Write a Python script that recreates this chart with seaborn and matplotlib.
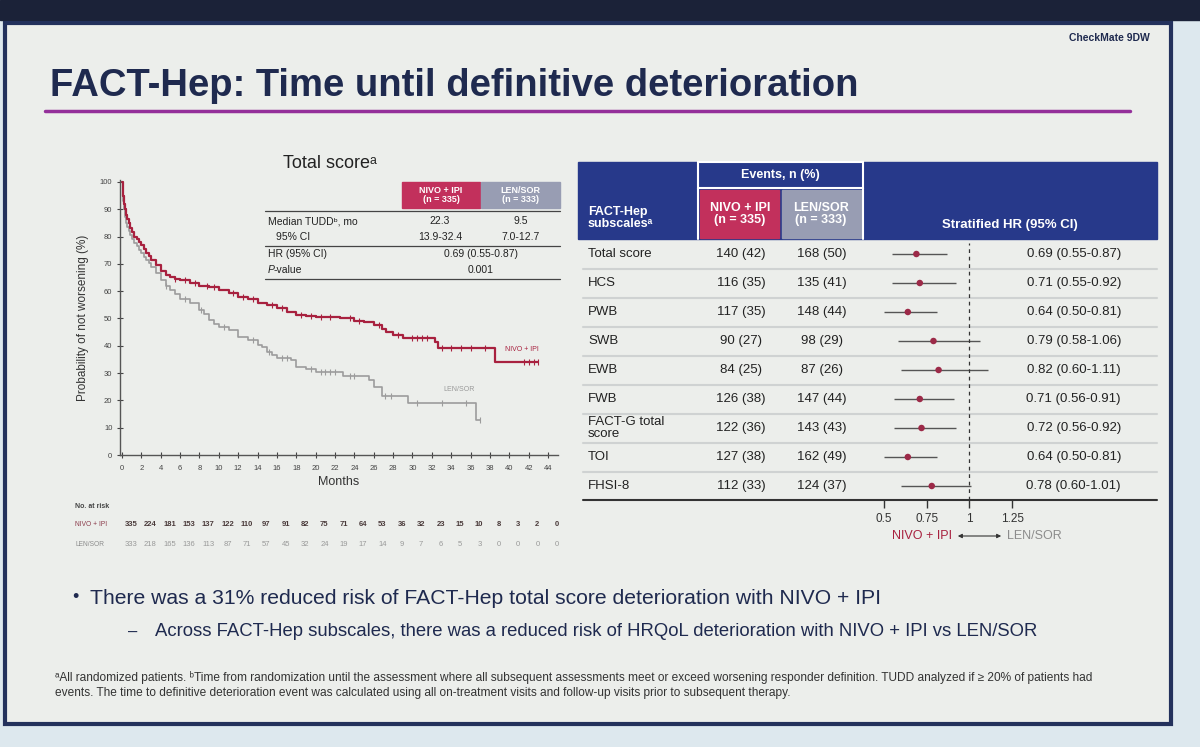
import numpy as np
import matplotlib
matplotlib.use('Agg')
import matplotlib.pyplot as plt
import matplotlib.transforms as mtransforms
from matplotlib.patches import Rectangle
import seaborn as sns

sns.set_theme(style='white')
plt.rcParams['font.family'] = ['Liberation Sans', 'DejaVu Sans']

# ---- Kaplan-Meier data ----
nivo_t = [0, 0.1, 0.2, 0.3, 0.4, 0.55, 0.7, 0.85, 1.0, 1.25, 1.5, 1.75, 2.0, 2.25, 2.5, 2.75, 3.0,
          3.5, 4.0, 4.5, 5.0, 5.5, 6.0, 7.0, 8.0, 9.0,
          10.0, 11.0, 12.0, 13.0, 14.0, 15.0, 16.0, 17.0, 18.0, 19.0, 20.0, 22.5, 24.0, 25.0, 26.0,
          26.8, 27.3, 28.0, 29.0, 32.3, 32.6, 38.5, 43.0]
nivo_s = [100, 95, 92, 90, 88, 86.5, 85, 83, 81.5, 80, 79, 78, 77, 75.5, 74, 72.7, 71.5,
          69.5, 67.5, 66, 65.2, 64.6, 64, 63, 62, 61.5,
          60.4, 59.3, 58, 57, 55.7, 55, 53.7, 52.5, 51.2, 51, 50.6, 50, 49, 48.6, 47.6,
          46, 45, 43.9, 42.8, 41.5, 39, 34.2, 34.2]
nivo_cens = [5.5, 6.5, 7.5, 8.8, 9.5, 11.5, 12.5, 13.5, 15.5, 16.5, 18.5, 19.5, 20.5, 21.5, 23.5,
             24.5, 26.5, 28.5, 30, 30.5, 31, 31.5, 33, 34, 35, 36, 37.5, 41.5, 42, 42.5, 43]

len_t = [0, 0.1, 0.2, 0.3, 0.4, 0.55, 0.7, 0.85, 1.0, 1.25, 1.5, 1.75, 2.0, 2.25, 2.5, 2.75, 3.0,
         3.5, 4.0, 4.5, 5.0, 5.5, 6.0, 7.0, 8.0, 8.5,
         9.0, 9.5, 10.0, 11.0, 12.0, 13.0, 14.0, 14.5, 15.0, 15.5, 16.0, 17.5, 18.0, 19.0, 20.0,
         22.8, 25.5, 26.0, 26.8, 29.5, 36.6, 37.0]
len_s = [100, 93, 90, 87, 85, 83.5, 82, 80.5, 79, 77.7, 76.5, 75, 73.8, 72.6, 71.5, 70.2, 69,
         66.5, 64, 62, 60.4, 59, 57.3, 55.5, 53, 51.5,
         49.4, 48, 47, 45.7, 43.3, 42, 40.2, 39.5, 37.8, 36.5, 35.4, 34.8, 32.3, 31.5, 30.5,
         29, 27.5, 25, 21.5, 19, 12.8, 12.8]
len_cens = [4.5, 6.5, 8.2, 10.5, 13.5, 15.2, 16.5, 17, 19.5, 20.5, 21, 21.5, 22, 23.5, 24,
            27.2, 27.8, 30.5, 33, 35.5, 37]

risk_months = list(range(0, 45, 2))
nivo_risk = [335, 224, 181, 153, 137, 122, 110, 97, 91, 82, 75, 71, 64, 53, 36, 32, 23, 15, 10, 8, 3, 2, 0]
len_risk = [333, 218, 165, 136, 113, 87, 71, 57, 45, 32, 24, 19, 17, 14, 9, 7, 6, 5, 3, 0, 0, 0, 0]

# ---- forest data ----
subscales = ['Total score', 'HCS', 'PWB', 'SWB', 'EWB', 'FWB', 'FACT-G total\nscore', 'TOI', 'FHSI-8']
nivo_events = ['140 (42)', '116 (35)', '117 (35)', '90 (27)', '84 (25)', '126 (38)', '122 (36)', '127 (38)', '112 (33)']
len_events = ['168 (50)', '135 (41)', '148 (44)', '98 (29)', '87 (26)', '147 (44)', '143 (43)', '162 (49)', '124 (37)']
hr = [0.69, 0.71, 0.64, 0.79, 0.82, 0.71, 0.72, 0.64, 0.78]
hr_lo = [0.55, 0.55, 0.50, 0.58, 0.60, 0.56, 0.56, 0.50, 0.60]
hr_hi = [0.87, 0.92, 0.81, 1.06, 1.11, 0.91, 0.92, 0.81, 1.01]

W, H = 1200, 747
NAVY = '#1f2a4f'
CRIMSON = '#a8213f'
GRAYC = '#9c9c9c'
BLUE = '#27398a'
CELL_RED = '#c2305c'
CELL_GRAY = '#989db3'
TXT = '#222222'


def frac(x0, y0, x1, y1):
    return [x0 / W, 1 - y1 / H, (x1 - x0) / W, (y1 - y0) / H]


fig = plt.figure(figsize=(12, 7.47), dpi=100)
fig.patch.set_facecolor('#dde8ee')
ax0 = fig.add_axes([0, 0, 1, 1])
ax0.set_xlim(0, W)
ax0.set_ylim(H, 0)
ax0.axis('off')

# slide background
ax0.add_patch(Rectangle((0, 0), W, 20, color='#1b2238', zorder=0))
ax0.add_patch(Rectangle((5, 23), 1166, 701, facecolor='#eceeeb', edgecolor='#23315c', lw=3, zorder=0))

ax0.text(1150, 38, 'CheckMate 9DW', ha='right', va='center', fontsize=7.5, fontweight='bold', color=NAVY)
ax0.text(50, 86, 'FACT-Hep: Time until definitive deterioration', ha='left', va='center',
         fontsize=27.5, fontweight='bold', color=NAVY)
ax0.plot([45, 1130], [111, 111], color='#94309a', lw=2.5)

# ---- KM plot ----
ax_km = fig.add_axes(frac(120, 180, 558, 455))
ax_km.set_facecolor('none')
sns.lineplot(x=len_t, y=len_s, drawstyle='steps-post', color=GRAYC, lw=1.2, sort=False, ax=ax_km)
sns.lineplot(x=nivo_t, y=nivo_s, drawstyle='steps-post', color=CRIMSON, lw=1.6, sort=False, ax=ax_km)


def step_at(ts, times, surv):
    idx = np.searchsorted(times, ts, side='right') - 1
    return np.asarray(surv)[idx]


sns.scatterplot(x=len_cens, y=step_at(len_cens, len_t, len_s), marker='|', s=14, color=GRAYC,
                linewidth=0.8, ax=ax_km, zorder=3)
sns.scatterplot(x=nivo_cens, y=step_at(nivo_cens, nivo_t, nivo_s), marker='|', s=14, color=CRIMSON,
                linewidth=0.8, ax=ax_km, zorder=3)
ax_km.set_xlim(-0.21, 45.03)
ax_km.set_ylim(0, 100.7)
ax_km.set_xticks(risk_months)
ax_km.set_yticks(range(0, 101, 10))
ax_km.tick_params(axis='both', labelsize=5.5, colors='#444444', length=4, width=0.8, direction='inout',
                  bottom=True, left=True)
ax_km.tick_params(axis='x', pad=5)
for s in ['top', 'right']:
    ax_km.spines[s].set_visible(False)
for s in ['left', 'bottom']:
    ax_km.spines[s].set_color('#555555')
    ax_km.spines[s].set_linewidth(1)
ax_km.set_xlabel('Months', fontsize=9, color='#333333', labelpad=3)
ax_km.set_ylabel('Probability of not worsening (%)', fontsize=8.5, color='#333333', labelpad=8)
ax_km.text(41.3, 38.8, 'NIVO + IPI', fontsize=5, color=CRIMSON, ha='center', va='center')
ax_km.text(34.8, 24.1, 'LEN/SOR', fontsize=5, color='#999999', ha='center', va='center')

# inner table
ax0.text(330, 163, 'Total scoreᵃ', ha='center', va='center', fontsize=13, color=TXT)
ax0.add_patch(Rectangle((402, 182), 78, 26, color=CELL_RED))
ax0.add_patch(Rectangle((481, 182), 79, 26, color=CELL_GRAY))
ax0.text(441, 195, 'NIVO + IPI\n(n = 335)', ha='center', va='center', fontsize=6.5, color='white',
         fontweight='bold', linespacing=1.05)
ax0.text(520, 195, 'LEN/SOR\n(n = 333)', ha='center', va='center', fontsize=6.5, color='white',
         fontweight='bold', linespacing=1.05)
for yy in [211, 246, 279]:
    ax0.plot([265, 560], [yy, yy], color='#444444', lw=0.9)
ax0.text(268, 221, 'Median TUDDᵇ, mo', fontsize=7.5, va='center', color=TXT)
ax0.text(276, 237, '95% CI', fontsize=7.5, va='center', color=TXT)
ax0.text(268, 254, 'HR (95% CI)', fontsize=7.5, va='center', color=TXT)
ax0.text(268, 270, 'P', fontsize=7.5, va='center', color=TXT, style='italic')
ax0.text(274, 270, '-value', fontsize=7.5, va='center', color=TXT)
for x, a, b in [(440, '22.3', '13.9-32.4'), (521, '9.5', '7.0-12.7')]:
    ax0.text(x, 221, a, fontsize=7.5, ha='center', va='center', color=TXT)
    ax0.text(x, 237, b, fontsize=7.5, ha='center', va='center', color=TXT)
ax0.text(481, 254, '0.69 (0.55-0.87)', fontsize=7.5, ha='center', va='center', color=TXT)
ax0.text(481, 270, '0.001', fontsize=7.5, ha='center', va='center', color=TXT)

# numbers at risk
btr = mtransforms.blended_transform_factory(ax_km.transData, ax0.transData)
ax0.text(75, 507, 'No. at risk', fontsize=5, fontweight='bold', color='#444444', va='center')
ax0.text(75, 525, 'NIVO + IPI', fontsize=4.8, color='#8b3a4a', va='center')
ax0.text(75, 545, 'LEN/SOR', fontsize=4.8, color='#8c8c8c', va='center')
for m, a, b in zip(risk_months, nivo_risk, len_risk):
    ax0.text(m + 0.9, 525, str(a), transform=btr, fontsize=5.5, fontweight='bold', color='#4a3a3a',
             ha='center', va='center')
    ax0.text(m + 0.9, 545, str(b), transform=btr, fontsize=5.5, color='#999999', ha='center', va='center')

# ---- forest table ----
ax0.add_patch(Rectangle((578, 162), 579, 77, color=BLUE))
ax0.add_patch(Rectangle((698, 162), 165, 26, facecolor=BLUE, edgecolor='white', lw=1.5))
ax0.plot([698, 698], [188, 239], color='white', lw=1.5)
ax0.plot([863, 863], [188, 239], color='white', lw=1.5)
ax0.add_patch(Rectangle((700, 190), 79, 48, color=CELL_RED))
ax0.add_patch(Rectangle((782, 190), 79, 48, color=CELL_GRAY))
ax0.text(780, 175, 'Events, n (%)', ha='center', va='center', fontsize=9, color='white', fontweight='bold')
ax0.text(740, 214, 'NIVO + IPI\n(n = 335)', ha='center', va='center', fontsize=9, color='white',
         fontweight='bold', linespacing=1.1)
ax0.text(821, 214, 'LEN/SOR\n(n = 333)', ha='center', va='center', fontsize=9, color='white',
         fontweight='bold', linespacing=1.1)
ax0.text(588, 218, 'FACT-Hep\nsubscalesᵃ', ha='left', va='center', fontsize=9, color='white',
         fontweight='bold', linespacing=1.0)
ax0.text(1010, 225, 'Stratified HR (95% CI)', ha='center', va='center', fontsize=9.5, color='white',
         fontweight='bold')

row_y = [254 + 29 * i for i in range(len(subscales))]
for i, y in enumerate(row_y):
    ax0.text(588, y, subscales[i], fontsize=9.5, va='center', color=TXT, linespacing=1.0)
    ax0.text(741, y, nivo_events[i], fontsize=9.5, ha='center', va='center', color=TXT)
    ax0.text(822, y, len_events[i], fontsize=9.5, ha='center', va='center', color=TXT)
    ax0.text(1121, y, f'{hr[i]:.2f} ({hr_lo[i]:.2f}-{hr_hi[i]:.2f})', fontsize=9.5, ha='right',
             va='center', color=TXT)
    if i < len(subscales) - 1:
        ax0.plot([583, 1157], [y + 14.5, y + 14.5], color='#cfd2d2', lw=1.5)
ax0.plot([583, 1157], [500, 500], color='#333333', lw=1.5)

ax_f = fig.add_axes(frac(860, 240, 1030, 500))
ax_f.set_facecolor('none')
rows = np.arange(len(subscales))
ax_f.hlines(rows, hr_lo, hr_hi, color='#555555', lw=1)
sns.scatterplot(x=hr, y=rows, color='#9c2a48', s=22, edgecolor='none', ax=ax_f, zorder=3)
ax_f.axvline(1, color='#333333', lw=0.9, ls=(0, (3, 3)), ymin=0, ymax=0.99)
ax_f.set_xlim(0.36, 1.355)
ax_f.set_ylim(8.483, -0.483)
ax_f.set_xticks([0.5, 0.75, 1, 1.25])
ax_f.set_xticklabels(['0.5', '0.75', '1', '1.25'])
ax_f.set_yticks([])
ax_f.tick_params(axis='x', length=6, width=1, direction='out', labelsize=8.5, colors='#333333', pad=3,
                 bottom=True)
for s in ax_f.spines.values():
    s.set_visible(False)

ax0.text(952, 536, 'NIVO + IPI', ha='right', va='center', fontsize=9, color=CRIMSON)
ax0.annotate('', xy=(1004, 536), xytext=(955, 536),
             arrowprops=dict(arrowstyle='<|-|>', color='#333333', lw=0.8, mutation_scale=6))
ax0.text(1007, 536, 'LEN/SOR', ha='left', va='center', fontsize=9, color='#8c8c8c')

# ---- bullets and footnote ----
ax0.text(72, 598, '•', fontsize=13, va='center', color=NAVY)
ax0.text(90, 598, 'There was a 31% reduced risk of FACT-Hep total score deterioration with NIVO + IPI',
         fontsize=15.2, va='center', color=NAVY)
ax0.text(128, 632, '–', fontsize=12, va='center', color=NAVY)
ax0.text(155, 632, 'Across FACT-Hep subscales, there was a reduced risk of HRQoL deterioration with NIVO + IPI vs LEN/SOR',
         fontsize=13.3, va='center', color=NAVY)
ax0.text(55, 678, 'ᵃAll randomized patients. ᵇTime from randomization until the assessment where all subsequent '
         'assessments meet or exceed worsening responder definition. TUDD analyzed if ≥ 20% of patients had',
         fontsize=8.6, va='center', color='#333333')
ax0.text(55, 693, 'events. The time to definitive deterioration event was calculated using all on-treatment '
         'visits and follow-up visits prior to subsequent therapy.',
         fontsize=8.6, va='center', color='#333333')

fig.savefig('out.png', dpi=100)
